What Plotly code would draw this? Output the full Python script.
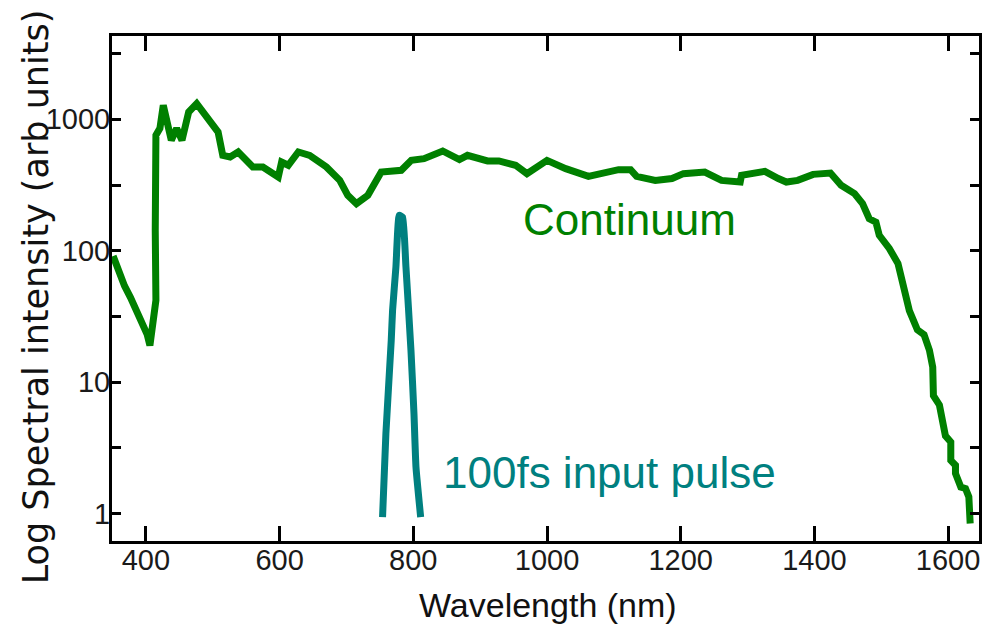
import plotly.graph_objects as go

# Supercontinuum spectrum (nm, arb. units)
continuum_wl = [351, 359, 368, 377, 387, 396, 402, 406, 415, 414, 415, 421, 426, 438,
                446, 454, 464, 476, 491, 508, 515, 526, 538, 560, 575, 598, 603, 613,
                628, 645, 670, 690, 702, 715, 732, 742, 752, 782, 797, 816, 844, 869,
                881, 911, 928, 953, 970, 1000, 1028, 1062, 1107, 1125, 1134, 1162,
                1187, 1204, 1236, 1261, 1289, 1291, 1326, 1346, 1358, 1375, 1398,
                1424, 1440, 1460, 1472, 1482, 1492, 1497, 1512, 1525, 1534, 1539,
                1542, 1554, 1564, 1572, 1577, 1578, 1587, 1596, 1604, 1604, 1611,
                1611, 1619, 1626, 1631, 1633]
continuum_int = [91, 68, 54, 44, 34, 28, 23, 19, 42, 143, 756, 854, 1278, 692,
                 854, 692, 1137, 1316, 1018, 800, 532, 517, 564, 434, 434, 364, 473, 447,
                 564, 532, 434, 343, 264, 228, 264, 315, 397, 409, 487, 502, 574, 494,
                 532, 482, 482, 447, 386, 487, 421, 368, 414, 414, 368, 343,
                 354, 386, 397, 343, 333, 375, 402, 354, 333, 343, 381,
                 390, 315, 272, 228, 175, 165, 131, 104, 80, 53, 44,
                 35, 25, 23, 17.5, 13, 7.9, 6.7, 3.9, 3.5, 2.54, 2.33,
                 2.02, 1.59, 1.55, 1.34, 0.84]

# 100 fs input pulse around 780 nm
pulse_wl = [754, 759, 767, 769, 774, 779, 784, 789, 796.5, 801, 804, 811]
pulse_int = [0.94, 4.06, 20.8, 35.2, 75.2, 186, 180, 75.2, 17.5, 5.76, 2.26, 0.94]

x_ticks = [400, 600, 800, 1000, 1200, 1400, 1600]
y_ticks = [1, 3.162, 10, 31.62, 100, 316.2, 1000, 3162]
y_tick_text = ["1", "", "10", "", "100", "", "1000", ""]

GREEN = "rgb(0,128,0)"
TEAL = "rgb(0,128,128)"
tick_font = dict(family="Liberation Sans Narrow, Arial Narrow, Liberation Sans, Arial",
                 size=29, color="#1a1a1a")

fig = go.Figure()
fig.add_trace(go.Scatter(x=continuum_wl, y=continuum_int, mode="lines",
                         line=dict(color=GREEN, width=7), showlegend=False))
fig.add_trace(go.Scatter(x=pulse_wl, y=pulse_int, mode="lines",
                         line=dict(color=TEAL, width=7, shape="spline", smoothing=0.4),
                         showlegend=False))

fig.update_layout(
    width=987, height=629,
    margin=dict(l=112, r=5, t=36, b=88),
    paper_bgcolor="white", plot_bgcolor="white",
    xaxis=dict(range=[349.3, 1646.2], tickvals=x_ticks, ticks="inside", ticklen=15,
               tickwidth=3, tickcolor="black", showline=True, linecolor="black",
               linewidth=3, mirror="ticks", showgrid=False, zeroline=False,
               tickfont=tick_font, ticklabelstandoff=-9),
    yaxis=dict(type="log", range=[-0.209, 3.634], tickvals=y_ticks, ticktext=y_tick_text,
               ticks="inside", ticklen=9, tickwidth=3, tickcolor="black", showline=True,
               linecolor="black", linewidth=3, mirror="ticks", showgrid=False,
               zeroline=False, tickfont=tick_font, ticklabelstandoff=-7),
    annotations=[
        dict(text="Log Spectral intensity (arb units)", xref="paper", yref="paper",
             x=-0.0874, y=0.483, xanchor="center", yanchor="middle", textangle=-90,
             showarrow=False, font=dict(family="DejaVu Sans", size=35, color="#111")),
        dict(text="Wavelength (nm)", xref="paper", yref="paper",
             x=0.5034, y=-0.1267, xanchor="center", yanchor="middle",
             showarrow=False, font=dict(family="Liberation Sans, Arial", size=34, color="#111")),
        dict(text="Continuum", xref="paper", yref="paper",
             x=0.4713, y=0.6376, xanchor="left", yanchor="middle",
             showarrow=False, font=dict(family="Liberation Sans, Arial", size=44, color=GREEN)),
        dict(text="100fs input pulse", xref="paper", yref="paper",
             x=0.3793, y=0.1366, xanchor="left", yanchor="middle",
             showarrow=False, font=dict(family="Liberation Sans, Arial", size=44, color=TEAL)),
    ],
)

fig.write_html("out.html")
